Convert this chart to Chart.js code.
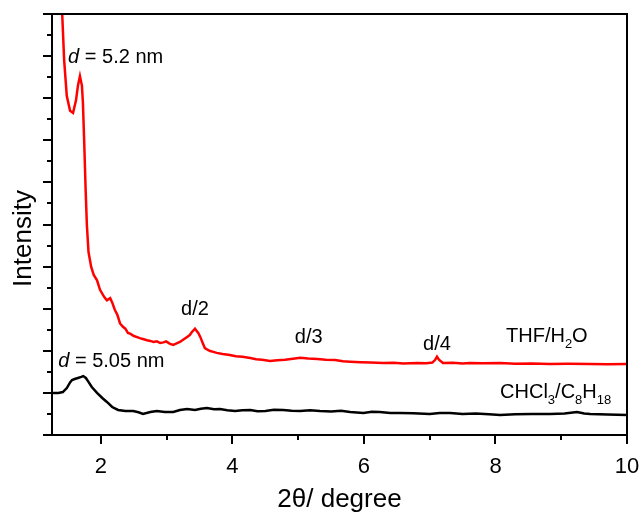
<!DOCTYPE html>
<html>
<head>
<meta charset="utf-8">
<script src="https://cdn.jsdelivr.net/npm/chart.js@4.4.0/dist/chart.umd.min.js"></script>
<style>
html,body{margin:0;padding:0;background:#fff;}
#wrap{width:644px;height:515px;position:relative;}
</style>
</head>
<body>
<div id="wrap"><canvas id="c" width="644" height="515"></canvas></div>
<script>
// ---- data ----
const redX = [1.34,1.41,1.44,1.48,1.53,1.575,1.62,1.65,1.68,1.71,1.725,1.745,1.765,1.785,1.81,1.85,1.89,1.94,1.985,2.05,2.09,2.14,2.17,2.21,2.25,2.29,2.33,2.37,2.41,2.45,2.50,2.55,2.59,2.65,2.70,2.75,2.80,2.85,2.90,2.95,2.99,3.05,3.10,3.15,3.20,3.26,3.31,3.35,3.38,3.43,3.46,3.48,3.51,3.55,3.58,3.62,3.66,3.71,3.76,3.85,3.96,4.05,4.15,4.27,4.36,4.45,4.57,4.68,4.80,4.92,5.03,5.15,5.29,5.42,5.56,5.68,5.79,5.95,6.10,6.29,6.45,6.60,6.81,6.95,7.04,7.08,7.11,7.14,7.20,7.35,7.50,7.61,7.80,8.07,8.30,8.55,8.83,9.10,9.44,9.70,10.0];
const redY = [21.5,20.0,17.8,16.1,15.4,15.3,15.9,16.6,17.05,16.6,15.8,13.9,11.8,10.0,8.7,8.0,7.6,7.35,6.9,6.55,6.4,6.5,6.3,5.95,5.7,5.3,5.15,5.05,4.85,4.8,4.7,4.65,4.6,4.55,4.5,4.47,4.42,4.45,4.37,4.40,4.45,4.33,4.28,4.35,4.42,4.55,4.66,4.75,4.88,5.05,4.92,4.85,4.66,4.35,4.13,4.05,3.99,3.95,3.90,3.85,3.80,3.74,3.72,3.66,3.60,3.58,3.52,3.55,3.57,3.62,3.67,3.63,3.61,3.58,3.56,3.50,3.48,3.46,3.44,3.42,3.43,3.40,3.42,3.41,3.44,3.56,3.72,3.58,3.42,3.43,3.40,3.42,3.41,3.42,3.39,3.40,3.37,3.38,3.37,3.36,3.37];
const blackX = [1.255,1.35,1.42,1.48,1.53,1.56,1.60,1.65,1.70,1.73,1.77,1.80,1.86,1.94,2.02,2.09,2.17,2.26,2.37,2.49,2.57,2.64,2.75,2.85,2.97,3.10,3.20,3.31,3.43,3.52,3.61,3.72,3.81,3.92,4.04,4.15,4.27,4.38,4.50,4.63,4.77,4.90,5.03,5.18,5.33,5.50,5.65,5.79,5.99,6.12,6.24,6.40,6.55,6.75,7.00,7.15,7.31,7.50,7.70,7.90,8.07,8.30,8.55,8.83,9.05,9.24,9.35,9.44,9.70,10.0];
const blackY = [2.0,2.0,2.04,2.23,2.5,2.61,2.66,2.71,2.76,2.80,2.71,2.57,2.28,2.0,1.76,1.57,1.33,1.19,1.14,1.14,1.08,1.0,1.09,1.14,1.09,1.09,1.19,1.24,1.19,1.25,1.28,1.22,1.24,1.18,1.14,1.17,1.19,1.13,1.14,1.20,1.19,1.15,1.14,1.17,1.14,1.12,1.15,1.09,1.05,1.10,1.09,1.04,1.05,1.03,1.00,1.04,1.05,1.00,1.02,0.98,0.95,0.98,1.00,1.00,1.02,1.09,1.02,1.00,0.97,0.95];
const xMajorTicks = [2,4,6,8,10];
const xMinorTicks = [3,5,7,9];
const yTicks = [0,1,2,3,4,5,6,7,8,9,10,11,12,13,14,15,16,17,18,19,20];
const xRange = [1.255, 10];
const yRange = [0, 20];
// annotations: [text parts, x, y(baseline)]
const labels = [
  {parts:[['d','italic'],[' = 5.2 nm','']], x:1.50, y:17.67, align:'left'},
  {parts:[['d/2','']], x:3.43, y:5.70, align:'center'},
  {parts:[['d','italic'],[' = 5.05 nm','']], x:1.35, y:3.23, align:'left'},
  {parts:[['d/3','']], x:5.16, y:4.37, align:'center'},
  {parts:[['d/4','']], x:7.11, y:4.04, align:'center'},
  {parts:[['THF/H',''],['2','sub'],['O','']], x:8.16, y:4.42, align:'left'},
  {parts:[['CHCl',''],['3','sub'],['/C',''],['8','sub'],['H',''],['18','sub']], x:8.07, y:1.76, align:'left'}
];

const FONT = '"Liberation Sans", Arial, sans-serif';

const framePlugin = {
  id: 'framePlugin',
  afterDraw(chart) {
    const {ctx, chartArea: a, scales: {x, y}} = chart;
    ctx.save();
    ctx.strokeStyle = '#000';
    ctx.lineWidth = 2;
    ctx.lineCap = 'butt';
    ctx.strokeRect(a.left, a.top, a.right - a.left, a.bottom - a.top);
    ctx.beginPath();
    xMajorTicks.forEach(v => { const p = Math.round(x.getPixelForValue(v)); ctx.moveTo(p, a.bottom); ctx.lineTo(p, a.bottom + 9); });
    xMinorTicks.forEach(v => { const p = Math.round(x.getPixelForValue(v)); ctx.moveTo(p, a.bottom); ctx.lineTo(p, a.bottom + 5); });
    yTicks.forEach(v => { const p = Math.round(y.getPixelForValue(v)); const len = (v % 2 === 0) ? 9 : 5; ctx.moveTo(a.left - len, p); ctx.lineTo(a.left, p); });
    ctx.stroke();
    // y title
    ctx.fillStyle = '#000';
    ctx.font = '26px ' + FONT;
    ctx.textAlign = 'center';
    ctx.textBaseline = 'middle';
    ctx.translate(24, (a.top + a.bottom) / 2 + 14);
    ctx.rotate(-Math.PI / 2);
    ctx.fillText('Intensity', 0, 0);
    ctx.restore();
  },
  afterDatasetsDraw(chart) {
    const {ctx, scales: {x, y}} = chart;
    ctx.save();
    ctx.fillStyle = '#000';
    ctx.textBaseline = 'alphabetic';
    labels.forEach(l => {
      const fontFor = st => st === 'italic' ? 'italic 20px ' + FONT : (st === 'sub' ? '13px ' + FONT : '20px ' + FONT);
      let total = 0;
      l.parts.forEach(([t, st]) => { ctx.font = fontFor(st); total += ctx.measureText(t).width; });
      let px = x.getPixelForValue(l.x);
      const py = y.getPixelForValue(l.y);
      if (l.align === 'center') px -= total / 2;
      ctx.textAlign = 'left';
      l.parts.forEach(([t, st]) => {
        ctx.font = fontFor(st);
        ctx.fillText(t, px, st === 'sub' ? py + 6 : py);
        px += ctx.measureText(t).width;
      });
    });
    ctx.restore();
  }
};

new Chart(document.getElementById('c'), {
  type: 'line',
  data: {
    datasets: [
      {label: 'THF/H2O', data: redX.map((v, i) => ({x: v, y: redY[i]})), borderColor: '#ff0000', borderWidth: 2.5, pointRadius: 0, tension: 0, fill: false},
      {label: 'CHCl3/C8H18', data: blackX.map((v, i) => ({x: v, y: blackY[i]})), borderColor: '#000000', borderWidth: 2.5, pointRadius: 0, tension: 0, fill: false}
    ]
  },
  options: {
    responsive: false,
    animation: false,
    devicePixelRatio: 1,
    layout: {padding: {top: 14, right: 17, left: 0, bottom: 0}},
    plugins: {legend: {display: false}, tooltip: {enabled: false}},
    scales: {
      x: {
        type: 'linear', min: xRange[0], max: xRange[1],
        afterBuildTicks: s => { s.ticks = xMajorTicks.map(v => ({value: v})); },
        afterFit: s => { s.height = 80; s.paddingLeft = 0; s.paddingRight = 0; },
        grid: {display: false},
        border: {display: false},
        ticks: {color: '#000', font: {family: FONT, size: 22}, padding: 11, maxRotation: 0, autoSkip: false},
        title: {display: true, text: '2θ/ degree', color: '#000', font: {family: FONT, size: 26}, padding: {top: 2, bottom: 0}}
      },
      y: {
        type: 'linear', min: yRange[0], max: yRange[1],
        afterFit: s => { s.width = 52; s.paddingTop = 0; s.paddingBottom = 0; },
        grid: {display: false},
        border: {display: false},
        ticks: {display: false}
      }
    }
  },
  plugins: [framePlugin]
});
</script>
</body>
</html>
